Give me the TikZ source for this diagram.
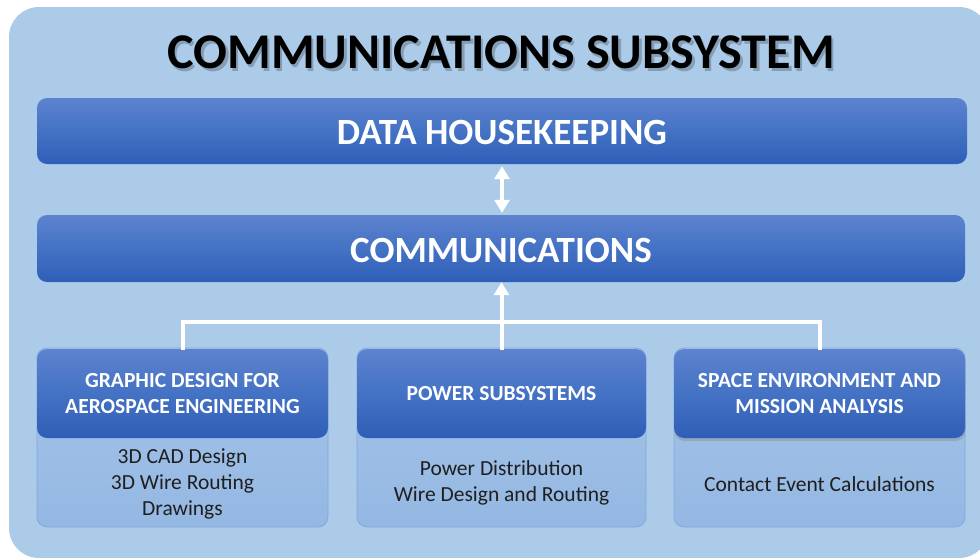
\documentclass[tikz,border=0pt]{standalone}
\usepackage{fontspec}
\setmainfont{Carlito}
\usetikzlibrary{arrows.meta,shadows}
\definecolor{bg}{RGB}{172,203,232}
\definecolor{hdtop}{RGB}{93,131,207}
\definecolor{hdmid}{RGB}{68,114,196}
\definecolor{hdbot}{RGB}{47,94,184}
\definecolor{bdtop}{RGB}{166,196,232}
\definecolor{bdbot}{RGB}{148,184,227}
\definecolor{bdline}{RGB}{132,169,219}
\begin{document}
\begin{tikzpicture}[x=1pt,y=-1pt,
 bar/.style={rectangle, rounded corners=10pt, top color=hdtop, bottom color=hdbot, middle color=hdmid, draw=none, text=white, font=\bfseries\fontsize{37}{42}\selectfont, inner sep=0pt},
 head/.style={bar, minimum width=291pt, minimum height=89pt, font=\bfseries\fontsize{21.5}{26}\selectfont, align=center},
 bodybox/.style={rectangle, rounded corners=10pt, top color=bdtop, bottom color=bdbot, draw=bdline, line width=0.8pt, minimum width=291pt, minimum height=179pt, inner sep=0pt},
 btext/.style={font=\fontsize{21.5}{26}\selectfont, align=center, text=black!88},
 titlefont/.style={font=\bfseries\fontsize{50}{56}\selectfont},
 conn/.style={draw=white, line width=4pt},
 tipx/.style={{Triangle[width=15pt,length=13pt]}-{Triangle[width=15pt,length=13pt]}},
 tipup/.style={-{Triangle[width=15pt,length=13pt]}}
]
\useasboundingbox (0,0) rectangle (980,557);
\fill[white] (0,0) rectangle (980,557);
\fill[bg, rounded corners=30pt] (9,7) rectangle (989,558);

% title
\node[titlefont, text=black, opacity=0.22] (tsh) at (503.5,55) {COMMUNICATIONS SUBSYSTEM};
\node[titlefont, text=black] (title) at (501,52) {COMMUNICATIONS SUBSYSTEM};

% bars
\node[bar, minimum width=930pt, minimum height=66pt, text height=27pt, text depth=0pt] (dh) at (502,131) {DATA HOUSEKEEPING};
\node[bar, minimum width=928pt, minimum height=67pt, text height=27pt, text depth=0pt] (comm) at (501,248.5) {COMMUNICATIONS};

% bottom boxes
\node[bodybox] (gb) at (182.5,437.5) {};
\node[bodybox, minimum width=289pt] (pb) at (501.5,437.5) {};
\node[bodybox] (sb) at (819.5,437.5) {};

\node[head] (gh) at (182.5,393.5) {GRAPHIC DESIGN FOR\\AEROSPACE ENGINEERING};
\node[head, minimum width=289pt] (ph) at (501.5,393.5) {POWER SUBSYSTEMS};
\node[head, drop shadow={opacity=0.35, shadow xshift=0.5pt, shadow yshift=-3pt}] (sh) at (819.5,393.5) {SPACE ENVIRONMENT AND\\MISSION ANALYSIS};

\node[btext] (gt) at (182.5,484) {3D CAD Design\\3D Wire Routing\\Drawings};
\node[btext] (pt) at (501.5,483) {Power Distribution\\Wire Design and Routing};
\node[btext] (st) at (819.5,484) {Contact Event Calculations};

% connectors
\coordinate (bus) at (501.5,322);
\draw[conn, tipx] ([yshift=-2pt]dh.south) -- ([yshift=2pt]dh.south |- comm.north);
\draw[conn] ([yshift=-1pt]gh.north) |- (bus) -| ([yshift=-1pt]sh.north);
\draw[conn, tipup] ([yshift=-1pt]ph.north) -- (ph.north |- comm.south);
\end{tikzpicture}
\end{document}
